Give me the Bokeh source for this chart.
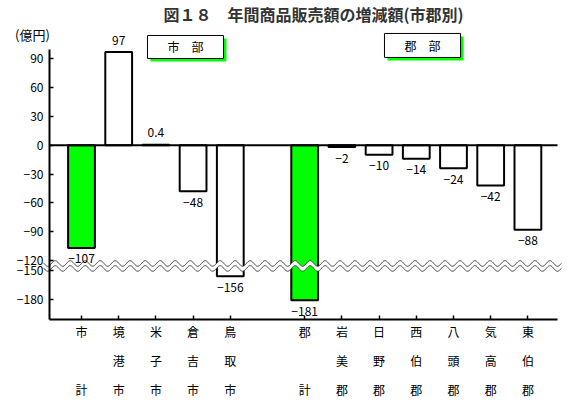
import numpy as np
from bokeh.plotting import figure
from bokeh.models import Range1d, FixedTicker, ColumnDataSource
from bokeh.embed import file_html
from bokeh.resources import INLINE
from bokeh.core.properties import value

# ---------------- data ----------------
categories = ["市計", "境港市", "米子市", "倉吉市", "鳥取市",
              "郡計", "岩美郡", "日野郡", "西伯郡", "八頭郡", "気高郡", "東伯郡"]
values = [-107, 97, 0.4, -48, -156, -181, -2, -10, -14, -24, -42, -88]
value_labels = ["−107", "97", "0.4", "−48", "−156", "−181",
                "−2", "−10", "−14", "−24", "−42", "−88"]
total_categories = ["市計", "郡計"]
y_tick_values = [90, 60, 30, 0, -30, -60, -90, -120, -150, -180]
y_tick_labels = ["90", "60", "30", "0", "−30", "−60", "−90", "−120", "−150", "−180"]
title_text = "図１８　年間商品販売額の増減額(市郡別)"
unit_text = "(億円)"
group_names = ["市　部", "郡　部"]

# ---------------- styling / layout ----------------
FONT = "Noto Sans CJK JP"
GREEN = "#00FF00"
BREAK_HI, BREAK_LO, GAP = -120, -150, 10.4   # axis break: -150..-120 compressed
X0, X1 = -0.86, 12.796          # extent of the drawn axes
Y0, Y1 = -181.56, 100           # extent of the drawn value axis


def T(v):
    """map a value onto the broken axis"""
    if v >= BREAK_HI:
        return v
    return round(v + (BREAK_HI - BREAK_LO) - GAP, 2)


# category slots: one empty slot between city and county groups
x_pos = [i if i < 5 else i + 1 for i in range(len(categories))]
ty = [T(v) for v in values]

p = figure(width=573, height=407, output_backend="svg", toolbar_location=None,
           x_range=Range1d(-2.177, 13.226), y_range=Range1d(-273.23, 150.73),
           min_border=0, background_fill_color="white",
           border_fill_color="white")
p.grid.visible = False
p.outline_line_color = None

# bars
bar_src = ColumnDataSource(dict(
    x=x_pos,
    top=[max(t, 0) for t in ty],
    bottom=[min(t, 0) for t in ty],
    fill=[GREEN if c in total_categories else "white" for c in categories],
))
p.vbar(x="x", top="top", bottom="bottom", width=0.72, source=bar_src,
       fill_color="fill", line_color="black", line_width=2)

# zero line
p.segment(x0=[X0], x1=[X1], y0=[0], y1=[0], line_color="black", line_width=2)

# axis break (white wavy band)
xs = np.linspace(-1.02, 12.9, 900)
ph = 2 * np.pi * xs / 0.403
up = -123.2 + 2.9 * np.sin(ph)
lo = -128.4 + 2.9 * np.sin(ph)
p.patch(np.concatenate([xs, xs[::-1]]), np.concatenate([up, lo[::-1]]),
        fill_color="white", line_color=None)
p.line(xs, up, line_color="#404040", line_width=1)
p.line(xs, lo, line_color="#404040", line_width=1)

# value labels
lab_src = ColumnDataSource(dict(
    x=x_pos, y=ty, text=value_labels,
    off=[11 if v < 0 else -12 for v in values],
))
p.text(x="x", y="y", text="text", y_offset="off", source=lab_src,
       text_align="center", text_baseline="middle",
       text_font=value(FONT), text_font_size="12px", text_color="black")

# group boxes
box_left = [1.774, 8.145]
box_right = [3.817, 10.19]
box_top = [114.3, 116.4]
box_bottom = [90.3, 91.4]
p.quad(left=[l + 0.08 for l in box_left], right=[r + 0.08 for r in box_right],
       top=[t - 3.1 for t in box_top], bottom=[b - 3.1 for b in box_bottom],
       fill_color=GREEN, line_color=None)
p.quad(left=box_left, right=box_right, top=box_top, bottom=box_bottom,
       fill_color="white", line_color="black", line_width=1)
p.text(x=[(l + r) / 2 for l, r in zip(box_left, box_right)],
       y=[(t + b) / 2 for t, b in zip(box_top, box_bottom)],
       text=group_names, text_align="center", text_baseline="middle",
       text_font=value(FONT), text_font_size="12px", text_color="black")

# title and unit
p.text(x=[6.237], y=[137.0], text=[title_text], text_align="center",
       text_baseline="middle", text_font=value(FONT), text_font_size="16px",
       text_font_style="bold", text_color="#333333")
p.text(x=[-1.317], y=[115.3], text=[unit_text], text_align="center",
       text_baseline="middle", text_font=value(FONT), text_font_size="13px",
       text_color="black")

# axes (placed at fixed data locations)
yax = p.yaxis[0]
xax = p.xaxis[0]
yax.fixed_location = X0
yax.bounds = (Y0, Y1)
yax.ticker = FixedTicker(ticks=[T(v) for v in y_tick_values])
yax.major_label_overrides = {T(v): s for v, s in zip(y_tick_values, y_tick_labels)}
yax.major_label_standoff = 6
yax.major_label_text_font_size = "12px"

xax.fixed_location = Y0
xax.bounds = (X0, X1)
xax.ticker = FixedTicker(ticks=x_pos)
rows = [[c[0], "　", c[1]] if len(c) == 2 else list(c) for c in categories]
xax.major_label_overrides = {x: "\n".join(r) for x, r in zip(x_pos, rows)}
xax.major_label_text_line_height = 1.69
xax.major_label_standoff = 4
xax.major_label_text_font_size = "12px"

for ax in (xax, yax):
    ax.axis_line_width = 2
    ax.axis_line_color = "black"
    ax.major_tick_in = 4
    ax.major_tick_out = 0
    ax.major_tick_line_width = 1.5
    ax.major_tick_line_color = "black"
    ax.minor_tick_line_color = None
    ax.major_label_text_font = FONT
    ax.major_label_text_color = "black"

open("out.html", "w").write(file_html(p, INLINE))
